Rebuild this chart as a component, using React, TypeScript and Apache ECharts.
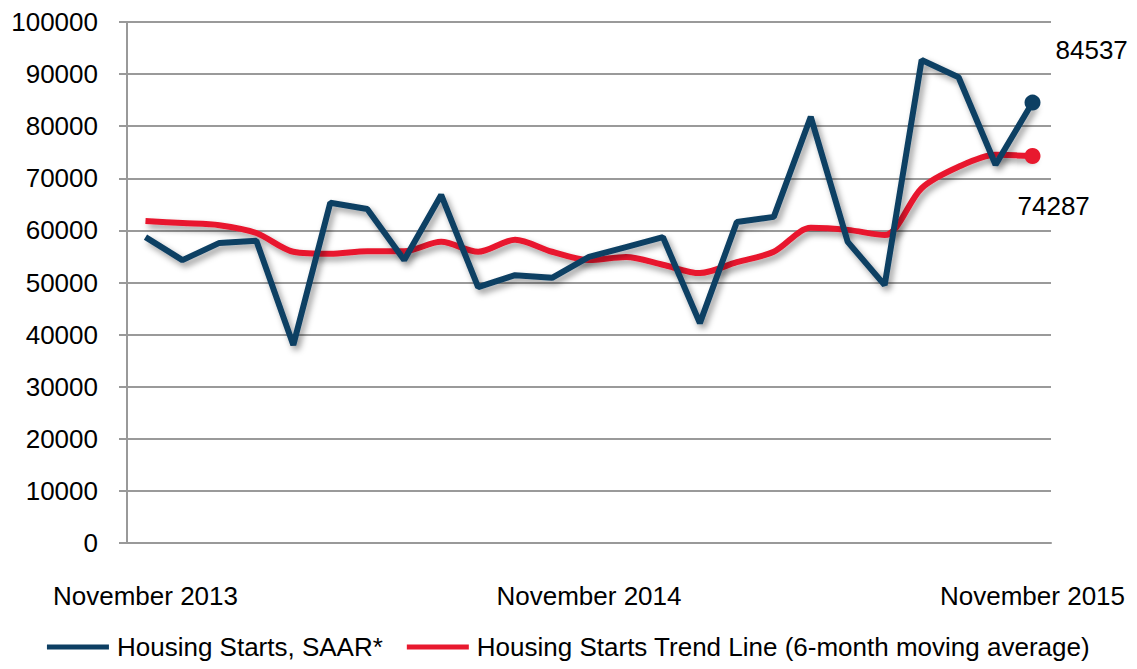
import React, { useEffect, useRef } from "react";
import * as echarts from "echarts";

const months = [
  "November 2013", "December 2013", "January 2014", "February 2014", "March 2014",
  "April 2014", "May 2014", "June 2014", "July 2014", "August 2014", "September 2014",
  "October 2014", "November 2014", "December 2014", "January 2015", "February 2015",
  "March 2015", "April 2015", "May 2015", "June 2015", "July 2015", "August 2015",
  "September 2015", "October 2015", "November 2015",
];

const housingStarts = [
  58700, 54300, 57600, 58000, 38000, 65300, 64100, 54300, 66800, 49100, 51400,
  50900, 54900, 56800, 58700, 42200, 61600, 62600, 81800, 57800, 49500, 92700,
  89400, 72600, 84537,
];

const trendLine = [
  61800, 61400, 61000, 59500, 55900, 55500, 56000, 56000, 57800, 55900, 58200,
  55900, 54300, 54900, 53400, 51800, 53900, 55900, 60500, 60100, 59100, 68100,
  72200, 74500, 74287,
];

const yTicks = { min: 0, max: 100000, interval: 10000 };

const FONT = "'Liberation Sans', Arial, sans-serif";
const BLUE = "#0d3f63";
const RED = "#e8192e";

export default function App() {
  const ref = useRef<HTMLDivElement>(null);

  useEffect(() => {
    if (!ref.current) return;
    const chart = echarts.init(ref.current, null, { renderer: "svg" });
    const last = months.length - 1;
    const shadow = {
      shadowColor: "rgba(0,0,0,0.4)",
      shadowBlur: 6,
      shadowOffsetX: 3,
      shadowOffsetY: 4,
    };
    const mkData = (arr: number[], label: any) =>
      arr.map((v, i) =>
        i === last ? { value: v, label: { show: true, ...label } } : v
      );

    chart.setOption({
      animation: false,
      backgroundColor: "#ffffff",
      textStyle: { fontFamily: FONT, color: "#000" },
      grid: { left: 127, right: 86, top: 22, bottom: 126, containLabel: false },
      legend: {
        bottom: 4,
        left: "center",
        icon: "rect",
        itemWidth: 62,
        itemHeight: 5,
        itemGap: 24,
        textStyle: { fontFamily: FONT, fontSize: 26, color: "#000", padding: [0, 0, 0, 3] },
        data: ["Housing Starts, SAAR*", "Housing Starts Trend Line (6-month moving average)"],
      },
      xAxis: {
        type: "category",
        data: months,
        boundaryGap: true,
        axisLine: { show: true, lineStyle: { color: "#999", width: 2 } },
        axisTick: { show: false },
        axisLabel: {
          interval: 11,
          margin: 40,
          fontFamily: FONT,
          fontSize: 26,
          color: "#000",
        },
        splitLine: { show: false },
      },
      yAxis: {
        type: "value",
        min: yTicks.min,
        max: yTicks.max,
        interval: yTicks.interval,
        axisLine: { show: true, lineStyle: { color: "#999", width: 2 } },
        axisTick: { show: true, length: 8, lineStyle: { color: "#999", width: 2 } },
        axisLabel: {
          margin: 29,
          fontFamily: FONT,
          fontSize: 26,
          color: "#000",
          formatter: (v: number) => String(v),
        },
        splitLine: { show: true, lineStyle: { color: "#9a9a9a", width: 2 } },
      },
      series: [
        {
          name: "Housing Starts, SAAR*",
          type: "line",
          data: mkData(housingStarts, {
            position: "right",
            distance: 5,
            offset: [10, -53],
            fontFamily: FONT,
            fontSize: 26,
            color: "#000",
          }),
          showSymbol: true,
          showAllSymbol: true,
          symbol: "circle",
          symbolSize: (_v: any, p: any) => (p.dataIndex === last ? 16 : 0),
          itemStyle: { color: BLUE },
          lineStyle: { color: BLUE, width: 6, ...shadow },
          z: 3,
        },
        {
          name: "Housing Starts Trend Line (6-month moving average)",
          type: "line",
          smooth: 0.3,
          data: mkData(trendLine, {
            position: "right",
            distance: 5,
            offset: [-28, 50],
            fontFamily: FONT,
            fontSize: 26,
            color: "#000",
          }),
          showSymbol: true,
          showAllSymbol: true,
          symbol: "circle",
          symbolSize: (_v: any, p: any) => (p.dataIndex === last ? 16 : 0),
          itemStyle: { color: RED },
          lineStyle: { color: RED, width: 6, ...shadow },
          z: 2,
        },
      ],
    });
    return () => chart.dispose();
  }, []);

  return (
    <div
      ref={ref}
      style={{ position: "fixed", left: 0, top: 0, width: 1137, height: 669, background: "#fff" }}
    />
  );
}
